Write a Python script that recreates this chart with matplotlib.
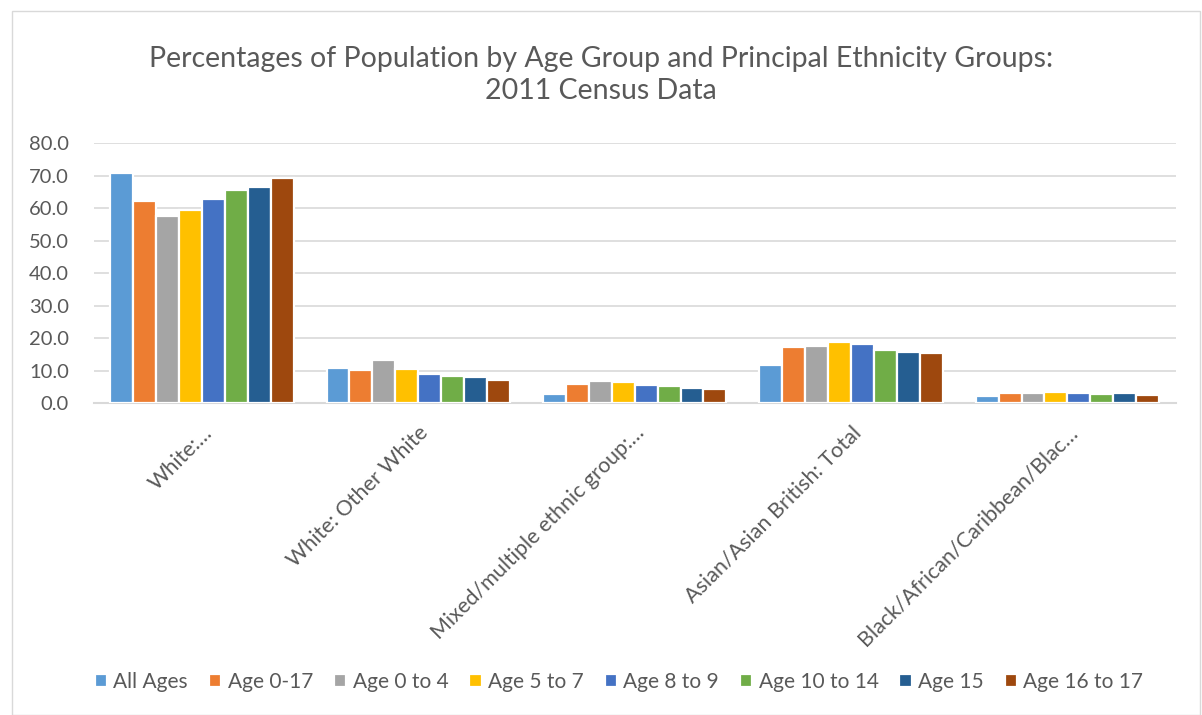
import numpy as np
import matplotlib.pyplot as plt
from matplotlib.patches import Rectangle

plt.rcParams['font.family'] = ['Lato', 'DejaVu Sans']

categories = ['White:…', 'White: Other White', 'Mixed/multiple ethnic group:…',
              'Asian/Asian British: Total', 'Black/African/Caribbean/Blac…']
series = ['All Ages', 'Age 0-17', 'Age 0 to 4', 'Age 5 to 7', 'Age 8 to 9',
          'Age 10 to 14', 'Age 15', 'Age 16 to 17']
colors = ['#5b9bd5', '#ed7d31', '#a5a5a5', '#ffc000', '#4472c4',
          '#70ad47', '#255e91', '#9e480e']

all_ages = [70.7, 10.7, 2.8, 11.7, 2.3]
age_0_17 = [62.2, 10.2, 5.9, 17.2, 3.1]
age_0_4 = [57.7, 13.2, 6.8, 17.5, 3.1]
age_5_7 = [59.5, 10.5, 6.4, 18.8, 3.4]
age_8_9 = [62.7, 9.0, 5.7, 18.2, 3.2]
age_10_14 = [65.5, 8.5, 5.3, 16.3, 3.0]
age_15 = [66.6, 8.1, 4.8, 15.8, 3.3]
age_16_17 = [69.2, 7.3, 4.5, 15.5, 2.4]
values = [all_ages, age_0_17, age_0_4, age_5_7, age_8_9, age_10_14, age_15, age_16_17]

fig = plt.figure(figsize=(12.02, 7.15), dpi=100)
ax = fig.add_axes([0.078, 0.436, 0.9, 0.364])

x = np.arange(len(categories))
slot = 0.106
for i, (name, vals) in enumerate(zip(series, values)):
    offset = (i - 3.5) * slot
    ax.bar(x + offset, vals, width=slot, color=colors[i], edgecolor='white',
           linewidth=1.6, label=name, zorder=3)

ax.set_xlim(-0.5, len(categories) - 0.5)
ax.set_ylim(0, 80)
ax.set_yticks(np.arange(0, 81, 10))
ax.set_yticklabels([f'{v:.1f}' for v in np.arange(0, 81, 10)])
ax.yaxis.grid(True, color='#d9d9d9', linewidth=1.2, zorder=0)
ax.set_xticks(x)
ax.set_xticklabels(categories, rotation=45, ha='right', rotation_mode='anchor')
for s in ['top', 'right', 'left']:
    ax.spines[s].set_visible(False)
ax.spines['bottom'].set_color('#d9d9d9')
ax.spines['bottom'].set_linewidth(1.5)
ax.tick_params(axis='both', length=0, labelsize=15.5, colors='#595959')
ax.tick_params(axis='y', pad=18, labelsize=14.5)
ax.tick_params(axis='x', pad=14)

fig.suptitle('Percentages of Population by Age Group and Principal Ethnicity Groups:\n2011 Census Data',
             y=0.935, fontsize=20.5, color='#595959', linespacing=1.25)

leg = fig.legend(loc='center', bbox_to_anchor=(0.515, 0.046), ncol=8, frameon=False,
                 fontsize=15, handlelength=0.6, handleheight=0.6, handletextpad=0.3,
                 columnspacing=1.0, labelcolor='#595959')

fig.patches.append(Rectangle((0.01, 0.0), 0.988, 0.985, transform=fig.transFigure,
                             fill=False, edgecolor='#d9d9d9', linewidth=1))

fig.savefig('out.png', dpi=100)
